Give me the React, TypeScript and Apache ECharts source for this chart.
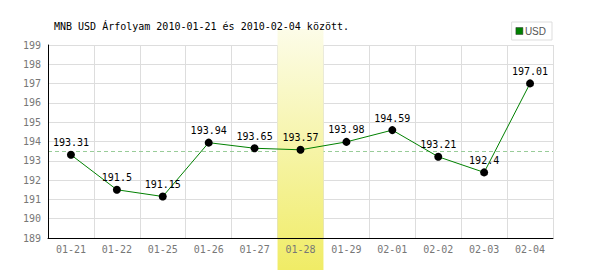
import React, { useEffect, useRef } from "react";
import * as echarts from "echarts";

const titleText = "MNB USD Árfolyam 2010-01-21 és 2010-02-04 között.";
const seriesName = "USD";
const categories = ["01-21", "01-22", "01-25", "01-26", "01-27", "01-28", "01-29", "02-01", "02-02", "02-03", "02-04"];
const values = [193.31, 191.5, 191.15, 193.94, 193.65, 193.57, 193.98, 194.59, 193.21, 192.4, 197.01];
const highlightCategory = "01-28";
const yMin = 189;
const yMax = 199;

const mono = "'DejaVu Sans Mono', 'Liberation Mono', monospace";

export default function App() {
  const ref = useRef<HTMLDivElement>(null);
  useEffect(() => {
    const chart = echarts.init(ref.current!, null, { renderer: "svg" });
    const option: any = {
      animation: false,
      backgroundColor: "#ffffff",
      title: {
        text: titleText,
        left: 49,
        top: 16,
        textStyle: { fontFamily: mono, fontSize: 10, fontWeight: "normal", color: "#000" },
      },
      legend: {
        right: 48,
        top: 22,
        orient: "vertical",
        icon: "rect",
        itemWidth: 7,
        itemHeight: 7,
        itemGap: 0,
        padding: [4, 6, 4, 4],
        borderColor: "#dddddd",
        borderWidth: 1,
        textStyle: { fontFamily: "'Liberation Sans', Arial, sans-serif", fontSize: 10, color: "#555", padding: [0, 0, 0, -3] },
        data: [{ name: seriesName, itemStyle: { color: "#008000", borderColor: "#333", borderWidth: 0.5 } }],
      },
      grid: { left: 48, right: 47, top: 45, bottom: 32 },
      xAxis: [
        {
          type: "category",
          data: categories,
          boundaryGap: true,
          z: 0,
          axisLine: { show: false },
          axisTick: { show: false },
          axisLabel: { show: false },
          splitLine: { show: true, lineStyle: { color: "#dddddd", width: 1 } },
        },
        {
          type: "category",
          data: categories,
          boundaryGap: true,
          position: "bottom",
          z: 3,
          axisLine: { show: true, lineStyle: { color: "#000", width: 1 } },
          axisTick: { show: false },
          axisLabel: { fontFamily: mono, fontSize: 10, color: "#777", margin: 6 },
          splitLine: { show: false },
        },
      ],
      yAxis: {
        type: "value",
        min: yMin,
        max: yMax,
        interval: 1,
        z: 0,
        axisLine: { show: true, lineStyle: { color: "#000", width: 1 } },
        axisTick: { show: false },
        axisLabel: { fontFamily: mono, fontSize: 10, color: "#777", margin: 7 },
        splitLine: { show: true, lineStyle: { color: "#dddddd", width: 1 } },
      },
      series: [
        {
          name: "avg",
          type: "line",
          data: values,
          xAxisIndex: 0,
          z: 0,
          silent: true,
          showSymbol: false,
          lineStyle: { opacity: 0 },
          legendHoverLink: false,
          markLine: {
            silent: true,
            symbol: "none",
            z: 0,
            label: { show: false },
            lineStyle: { color: "#99cc99", type: [4, 3], width: 1 },
            data: [{ type: "average" }],
          },
        },
        {
          name: seriesName,
          type: "line",
          data: values,
          xAxisIndex: 0,
          z: 5,
          symbol: "circle",
          symbolSize: 8,
          itemStyle: { color: "#000" },
          lineStyle: { color: "#008000", width: 1 },
          label: {
            show: true,
            position: "top",
            distance: 3,
            fontFamily: mono,
            fontSize: 10,
            color: "#000",
          },
        },
      ],
    };
    chart.setOption(option);

    const idx = categories.indexOf(highlightCategory);
    const cx = chart.convertToPixel({ xAxisIndex: 0 }, idx) as number;
    const cx2 = chart.convertToPixel({ xAxisIndex: 0 }, idx + 1) as number;
    const w = Math.abs(cx2 - cx);
    chart.setOption({
      graphic: [
        {
          type: "rect",
          z: 1,
          silent: true,
          shape: { x: cx - w / 2, y: 29, width: w, height: 241 },
          style: {
            fill: new echarts.graphic.LinearGradient(0, 0, 0, 1, [
              { offset: 0, color: "#fcfce8" },
              { offset: 1, color: "#f0ec66" },
            ]),
          },
        },
      ],
    });
    return () => chart.dispose();
  }, []);
  return <div ref={ref} style={{ position: "fixed", left: 0, top: 0, width: 600, height: 270 }} />;
}
